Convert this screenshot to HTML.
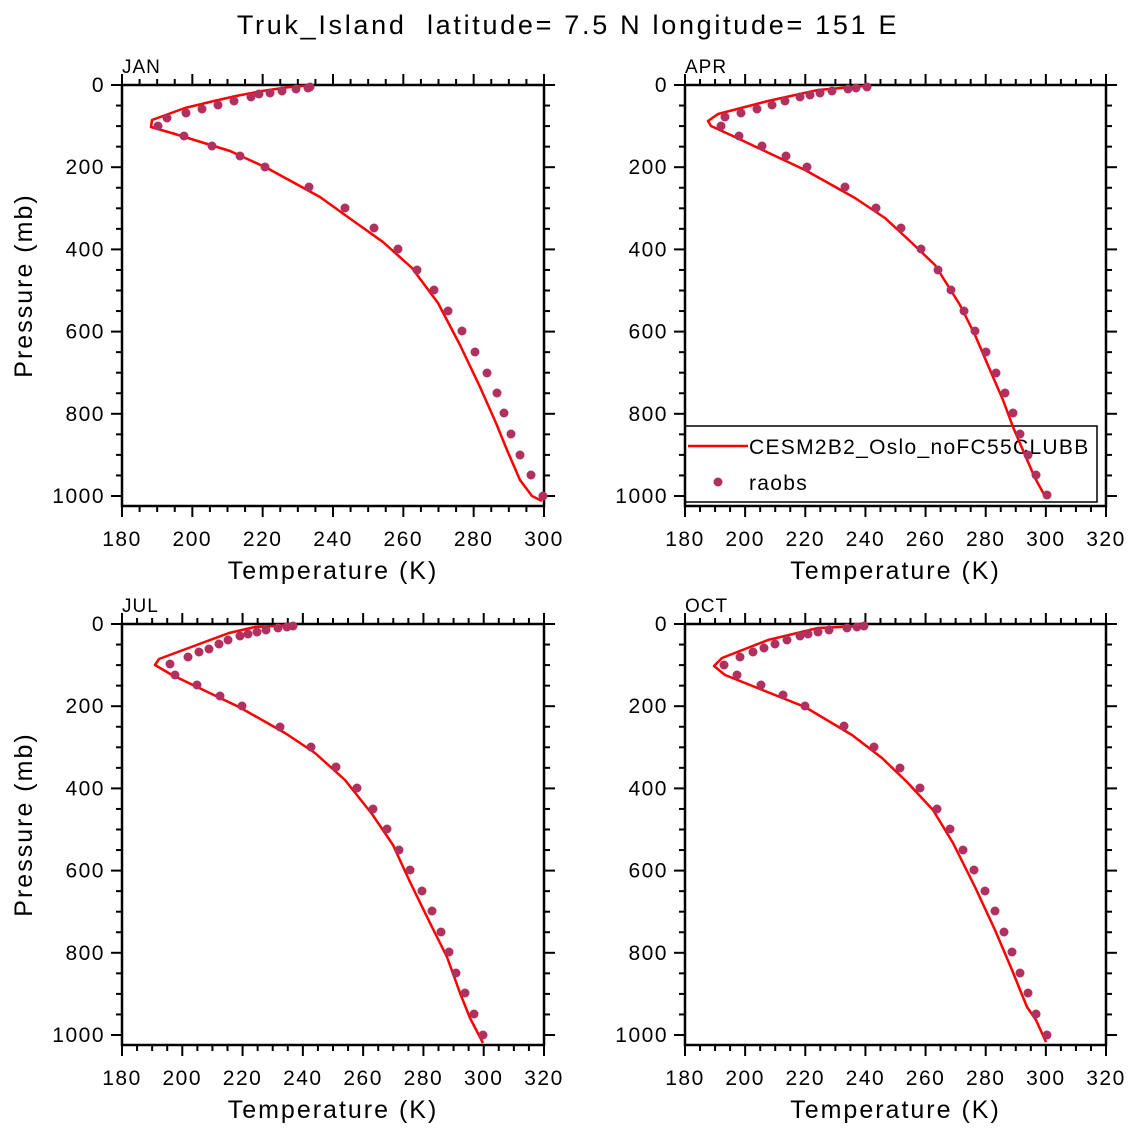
<!DOCTYPE html>
<html><head><meta charset="utf-8"><style>
html,body{margin:0;padding:0;background:#fff;}
svg{display:block;font-family:"Liberation Sans",sans-serif;}
text{white-space:pre;}
</style></head><body>
<svg id="s" width="1135" height="1135" viewBox="0 0 1135 1135" xmlns="http://www.w3.org/2000/svg">
<rect width="1135" height="1135" fill="#fff"/>
<text x="568" y="34" font-size="27" text-anchor="middle" letter-spacing="2.7" fill="#000">Truk_Island  latitude= 7.5 N longitude= 151 E</text>
</svg>
<script>
const S=document.getElementById('s');const NS='http://www.w3.org/2000/svg';
function el(t,a,txt){const e=document.createElementNS(NS,t);for(const k in a)e.setAttribute(k,a[k]);if(txt!==undefined)e.textContent=txt;S.appendChild(e);return e;}
el('rect',{x:685,y:426,width:412,height:76,fill:'#fff',stroke:'#000','stroke-width':1.5});
el('line',{x1:688,x2:748,y1:446,y2:446,stroke:'#ff0000','stroke-width':2.5});
el('text',{x:749,y:454,'font-size':21,'letter-spacing':1.3},'CESM2B2_Oslo_noFC55CLUBB');
el('circle',{cx:718,cy:482,r:4.5,fill:'#b03060'});
el('text',{x:749,y:490,'font-size':21,'letter-spacing':1.3},'raobs');
const P=[
{x0:122,x1:544,y0:85,yb:506,tmax:300,lab:'JAN',
dots:[[310,87],[308,88],[296,89],[282,91],[270,93],[259,94],[251,97],[234,101],[218,105],[202,109],[186,113],[167,118],[158,126],[184,136],[212,146],[240,156],[265,167],[309,187],[345,208],[374,228],[398,249],[417,270],[434,290],[448,311],[462,331],[475,352],[487,373],[497,393],[504,413],[511,434],[520,455],[531,475],[543,496]],
line:[[313,85],[290,87],[262,91],[236,96],[214,101],[185,108],[152,120],[151,127],[175,134],[230,151],[267,168],[320,197],[345,215],[383,242],[412,268],[438,303],[460,345],[480,387],[496,423],[507,450],[520,480],[532,496],[542,501]]},
{x0:685,x1:1106,y0:85,yb:506,tmax:320,lab:'APR',
dots:[[867,87],[856,88],[848,89],[832,91],[820,93],[810,95],[800,97],[785,101],[772,105],[757,109],[741,113],[725,117],[721,126],[739,136],[762,146],[786,156],[807,167],[845,187],[876,208],[901,228],[921,249],[938,270],[951,290],[964,311],[975,331],[986,352],[996,373],[1005,393],[1013,413],[1020,434],[1028,455],[1036,475],[1047,495]],
line:[[864,86],[818,90],[768,101],[718,114],[708,121],[711,126],[735,137],[805,170],[855,198],[885,218],[912,243],[935,265],[960,305],[975,335],[990,370],[1003,400],[1013,427],[1025,455],[1035,478],[1046,498]]},
{x0:122,x1:544,y0:624,yb:1045,tmax:320,lab:'JUL',
dots:[[293,626],[287,627],[278,628],[266,630],[257,632],[248,634],[240,636],[228,640],[219,644],[209,649],[199,652],[188,657],[170,664],[175,675],[197,685],[220,696],[242,706],[280,727],[311,747],[336,767],[357,788],[373,809],[387,829],[399,850],[410,870],[422,891],[432,911],[441,932],[449,952],[456,973],[465,993],[474,1014],[483,1035]],
line:[[292,625],[255,627],[229,633],[202,643],[159,659],[155,665],[172,675],[239,707],[285,733],[315,753],[345,780],[372,814],[393,845],[410,882],[430,923],[447,957],[460,993],[470,1018],[483,1043]]},
{x0:685,x1:1106,y0:624,yb:1045,tmax:320,lab:'OCT',
dots:[[864,626],[857,627],[847,628],[829,630],[818,632],[808,634],[800,636],[787,640],[775,644],[764,648],[753,652],[740,657],[724,665],[737,675],[761,685],[783,695],[805,706],[844,726],[874,747],[900,768],[920,788],[937,809],[950,829],[963,850],[974,870],[985,891],[995,911],[1004,932],[1012,952],[1020,973],[1028,993],[1036,1014],[1047,1035]],
line:[[862,626],[818,628],[768,640],[722,658],[714,666],[725,675],[805,707],[852,735],[882,758],[907,782],[933,810],[953,843],[975,887],[995,930],[1012,970],[1027,1007],[1036,1020],[1046,1042]]}
];
P.forEach(p=>{
 const sx=(p.x1-p.x0)/(p.tmax-180);const sy=0.411;
 for(let t=180;t<=p.tmax;t+=5){const x=p.x0+(t-180)*sx;const L=(t%20==0)?11:6;
  el('line',{x1:x,x2:x,y1:p.y0,y2:p.y0-L,stroke:'#000','stroke-width':2});
  el('line',{x1:x,x2:x,y1:p.yb,y2:p.yb+L,stroke:'#000','stroke-width':2});
  if(t%20==0)el('text',{x:x,y:p.yb+40,'font-size':21,'letter-spacing':1.5,'text-anchor':'middle'},String(t));}
 for(let v=0;v<=1000;v+=50){const y=p.y0+v*sy;const L=(v%200==0)?11:6;
  el('line',{x1:p.x0,x2:p.x0-L,y1:y,y2:y,stroke:'#000','stroke-width':2});
  el('line',{x1:p.x1,x2:p.x1+L,y1:y,y2:y,stroke:'#000','stroke-width':2});
  if(v%200==0)el('text',{x:p.x0-17,y:y+7,'font-size':21,'letter-spacing':1.5,'text-anchor':'end'},String(v));}
 el('rect',{x:p.x0,y:p.y0,width:p.x1-p.x0,height:p.yb-p.y0,fill:'none',stroke:'#000','stroke-width':2.5});
 el('text',{x:p.x0,y:p.y0-12,'font-size':19,'letter-spacing':1},p.lab);
 el('text',{x:(p.x0+p.x1)/2,y:p.yb+73,'font-size':25,'text-anchor':'middle','letter-spacing':2},'Temperature (K)');
 if(p.x0<300)el('text',{x:0,y:0,'font-size':25,'text-anchor':'middle','letter-spacing':2,transform:`translate(32,${(p.y0+p.yb)/2-10}) rotate(-90)`},'Pressure (mb)');
 el('polyline',{points:p.line.map(a=>a.join(',')).join(' '),fill:'none',stroke:'#ff0000','stroke-width':2.5,'stroke-linejoin':'round'});
 p.dots.forEach(d=>el('circle',{cx:d[0],cy:d[1],r:4.5,fill:'#b03060'}));
});
</script>
</body></html>
